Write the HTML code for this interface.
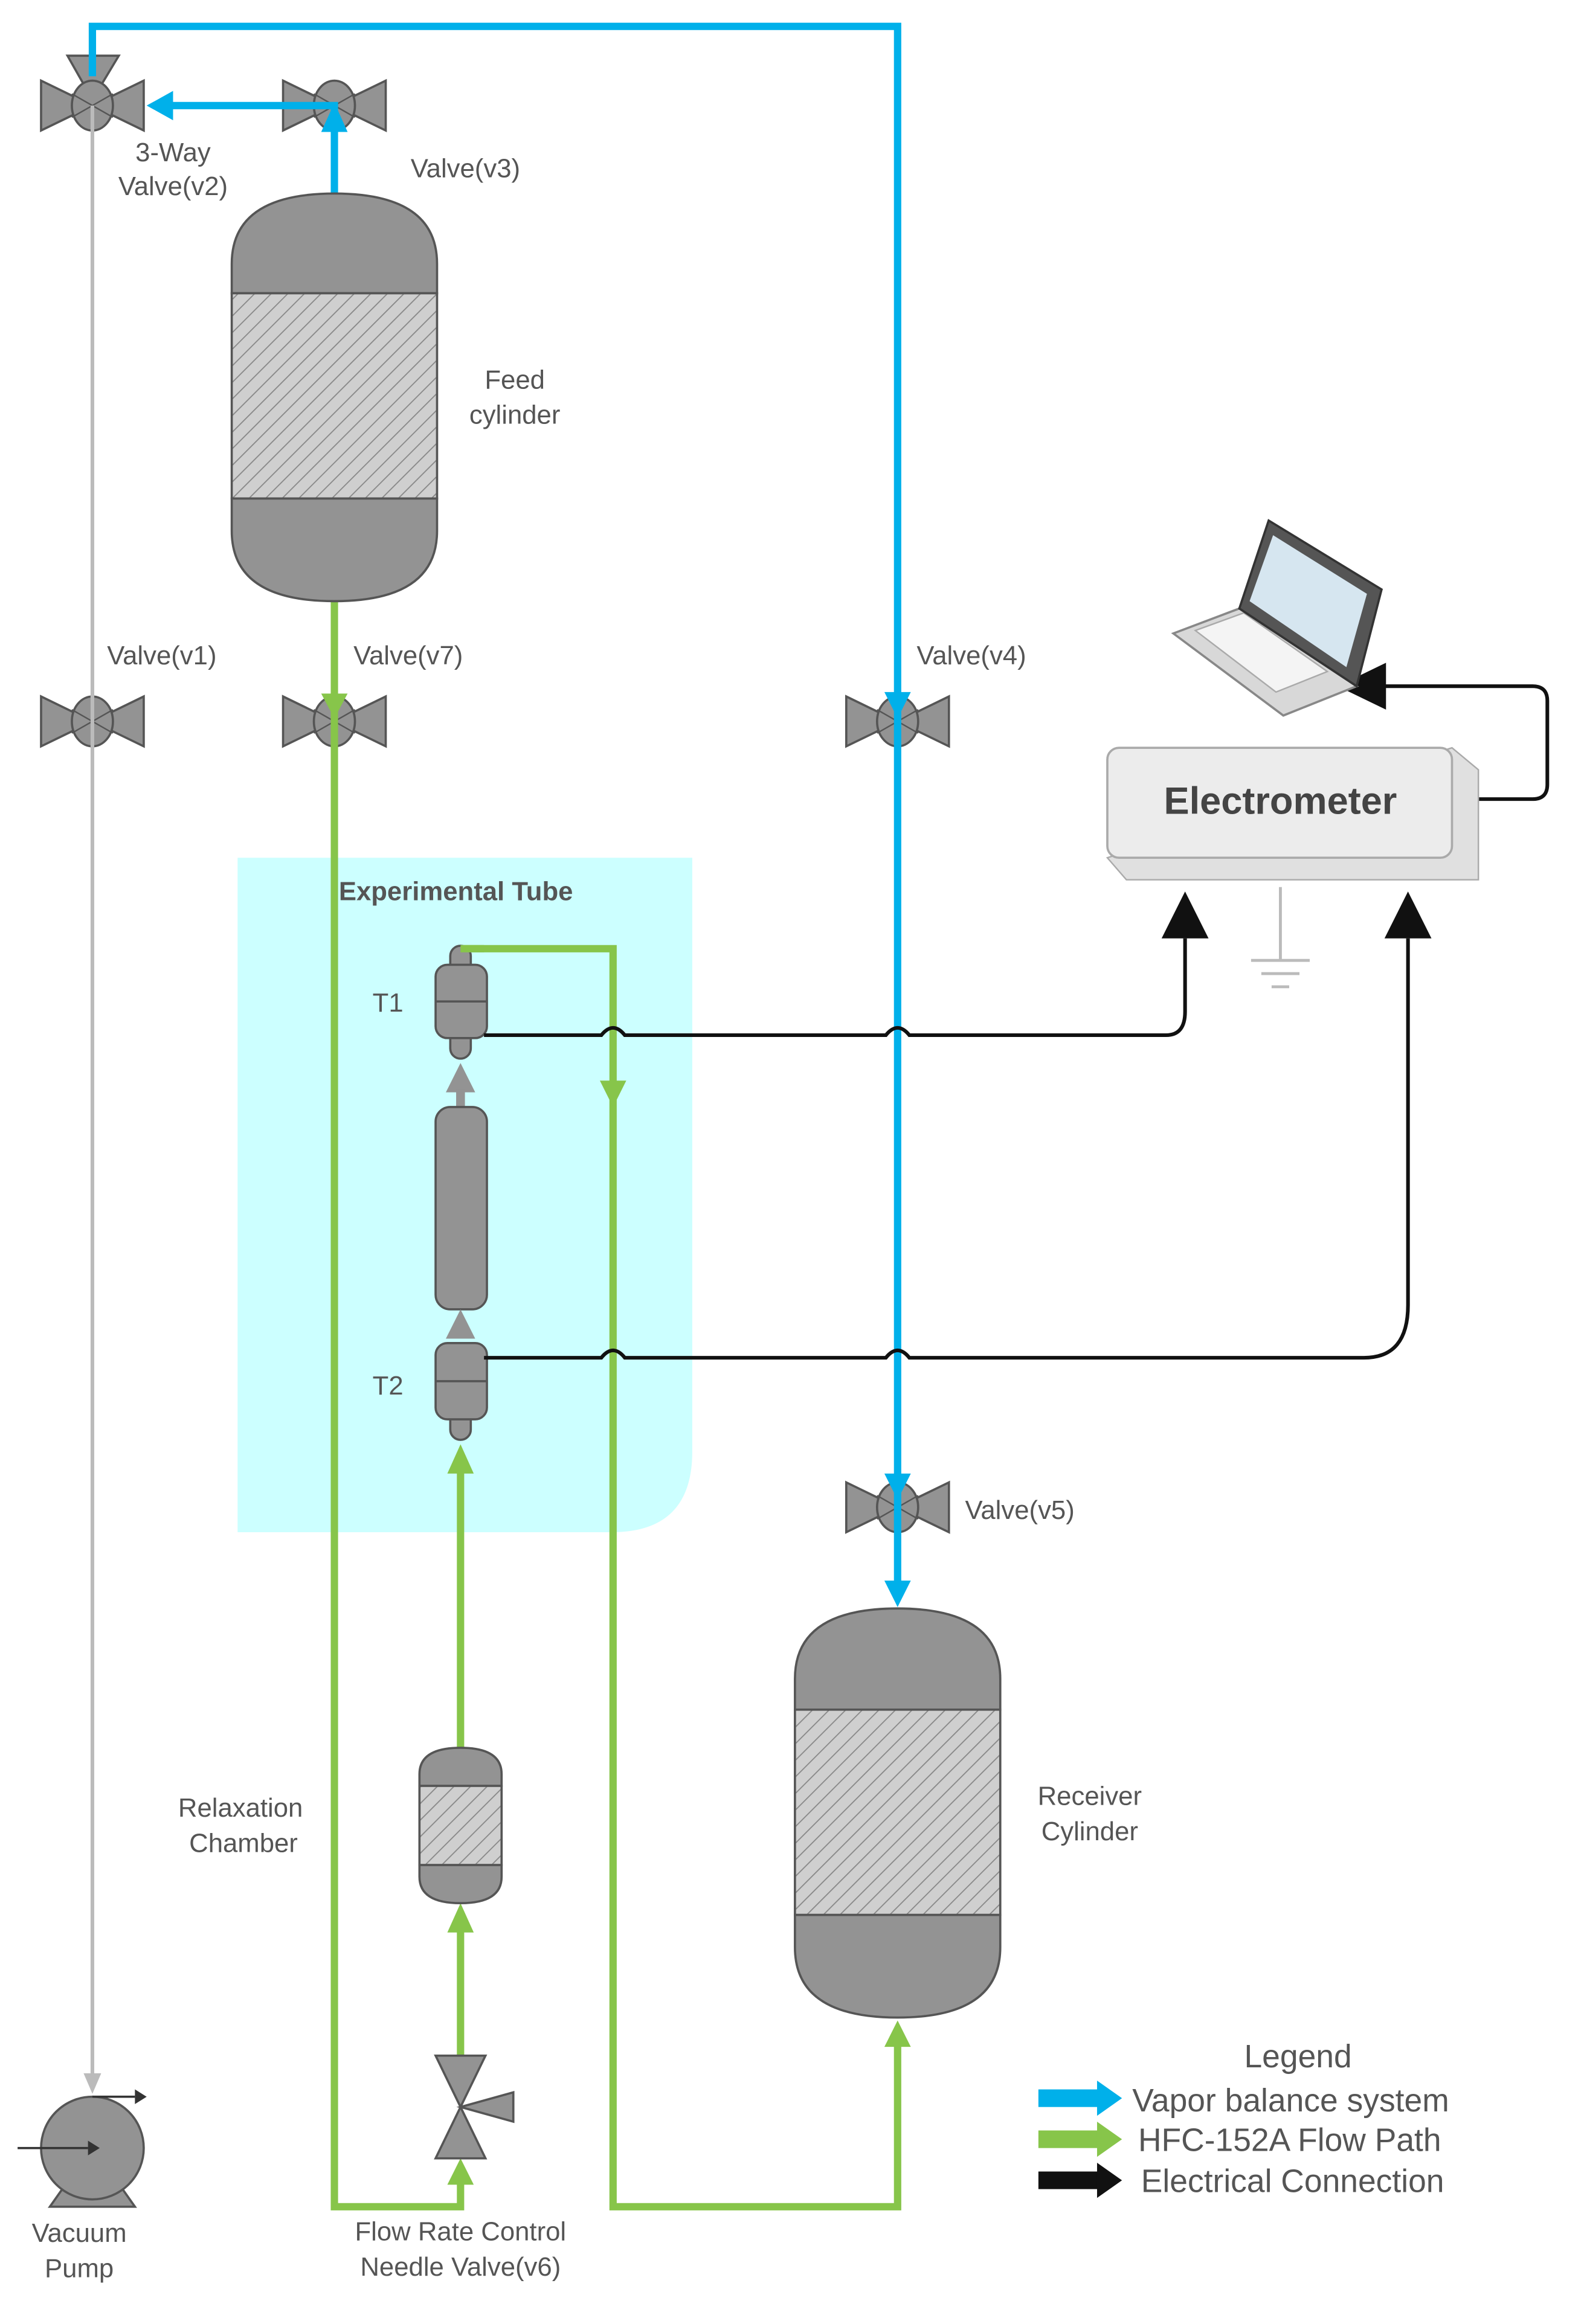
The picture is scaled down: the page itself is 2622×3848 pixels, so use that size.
<!DOCTYPE html>
<html><head><meta charset="utf-8"><style>
html,body{margin:0;padding:0;background:#fff;}
svg{display:block;}
text{font-family:"Liberation Sans",sans-serif;fill:#555;}
</style></head><body>
<svg width="2622" height="3848" viewBox="0 0 1080 1585" preserveAspectRatio="none" xmlns="http://www.w3.org/2000/svg">
<defs>
<pattern id="hatch" patternUnits="userSpaceOnUse" width="8" height="8" patternTransform="rotate(45)">
<rect width="8" height="8" fill="#cfcfcf"/><line x1="0" y1="0" x2="0" y2="8" stroke="#888" stroke-width="1.5"/>
</pattern>
<g id="valve">
<path d="M-35,-17 L0,0 L-35,17 Z M35,-17 L0,0 L35,17 Z" fill="#939393" stroke="#555" stroke-width="1.5"/>
<ellipse cx="0" cy="0" rx="14" ry="17" fill="#939393" stroke="#555" stroke-width="1.5"/>
<path d="M-14,-8 L14,8 M-14,8 L14,-8" stroke="#555" stroke-width="1"/>
</g>
</defs>
<rect width="1080" height="1585" fill="#fff"/>

<!-- experimental tube background -->
<path d="M162,585 H472 V990 Q472,1045 417,1045 H162 Z" fill="#ccffff"/>
<text x="231" y="614" font-size="18" font-weight="bold">Experimental Tube</text>

<!-- valves (under lines) -->
<path d="M46,38 L81,38 L63,68 Z" fill="#939393" stroke="#555" stroke-width="1.5"/>
<use href="#valve" x="63" y="72"/>
<use href="#valve" x="228" y="72"/>
<use href="#valve" x="63" y="492"/>
<use href="#valve" x="228" y="492"/>
<use href="#valve" x="612" y="492"/>
<use href="#valve" x="612" y="1028"/>

<!-- gray vacuum line -->
<line x1="63" y1="72" x2="63" y2="1418" stroke="#bbb" stroke-width="2.5"/>
<path d="M57,1414 L69,1414 L63,1428 Z" fill="#bbb"/>

<!-- blue lines -->
<path d="M63,52 V18 H612 V1085" fill="none" stroke="#00b0ea" stroke-width="5"/>
<path d="M603,1078 L621,1078 L612,1096 Z" fill="#00b0ea"/>
<path d="M603,472 L621,472 L612,490 Z" fill="#00b0ea"/>
<path d="M603,1005 L621,1005 L612,1023 Z" fill="#00b0ea"/>
<path d="M228,135 V72 H112" fill="none" stroke="#00b0ea" stroke-width="5"/>
<path d="M100,72 L118,62 L118,82 Z" fill="#00b0ea"/>
<path d="M228,70 L219,90 L237,90 Z" fill="#00b0ea"/>

<!-- green lines -->
<path d="M228,410 V1505 H314 V1480" fill="none" stroke="#87c54a" stroke-width="5"/>
<path d="M219,473 L237,473 L228,490 Z" fill="#87c54a"/>
<path d="M314,1472 L305,1490 L323,1490 Z" fill="#87c54a"/>
<path d="M314,1415 V1310" fill="none" stroke="#87c54a" stroke-width="5"/>
<path d="M314,1298 L305,1318 L323,1318 Z" fill="#87c54a"/>
<path d="M314,1192 V995" fill="none" stroke="#87c54a" stroke-width="5"/>
<path d="M314,985 L305,1005 L323,1005 Z" fill="#87c54a"/>
<path d="M314,647 H418 V1505 H612 V1390" fill="none" stroke="#87c54a" stroke-width="5"/>
<path d="M409,737 L427,737 L418,755 Z" fill="#87c54a"/>
<path d="M612,1378 L603,1396 L621,1396 Z" fill="#87c54a"/>

<!-- feed cylinder -->
<path d="M158,200 V180 Q158,132 228,132 Q298,132 298,180 V200 Z" fill="#939393" stroke="#555" stroke-width="1.5"/>
<rect x="158" y="200" width="140" height="140" fill="url(#hatch)" stroke="#555" stroke-width="1.5"/>
<path d="M158,340 V362 Q158,410 228,410 Q298,410 298,362 V340 Z" fill="#939393" stroke="#555" stroke-width="1.5"/>
<text x="351" y="265" font-size="18" text-anchor="middle">Feed</text>
<text x="351" y="289" font-size="18" text-anchor="middle">cylinder</text>

<!-- receiver cylinder -->
<path d="M542,1166 V1145 Q542,1097 612,1097 Q682,1097 682,1145 V1166 Z" fill="#939393" stroke="#555" stroke-width="1.5"/>
<rect x="542" y="1166" width="140" height="140" fill="url(#hatch)" stroke="#555" stroke-width="1.5"/>
<path d="M542,1306 V1328 Q542,1376 612,1376 Q682,1376 682,1328 V1306 Z" fill="#939393" stroke="#555" stroke-width="1.5"/>
<text x="743" y="1231" font-size="18" text-anchor="middle">Receiver</text>
<text x="743" y="1255" font-size="18" text-anchor="middle">Cylinder</text>

<text x="118" y="110" font-size="18" text-anchor="middle">3-Way</text>
<text x="118" y="133" font-size="18" text-anchor="middle">Valve(v2)</text>
<text x="280" y="121" font-size="18">Valve(v3)</text>
<text x="73" y="453" font-size="18">Valve(v1)</text>
<text x="241" y="453" font-size="18">Valve(v7)</text>
<text x="625" y="453" font-size="18">Valve(v4)</text>
<text x="658" y="1036" font-size="18">Valve(v5)</text>

<!-- T1 -->
<rect x="307" y="645" width="14" height="20" rx="7" fill="#939393" stroke="#555" stroke-width="1.5"/>
<rect x="307" y="700" width="14" height="22" rx="7" fill="#939393" stroke="#555" stroke-width="1.5"/>
<rect x="297" y="658" width="35" height="50" rx="8" fill="#939393" stroke="#555" stroke-width="1.5"/>
<line x1="297" y1="683" x2="332" y2="683" stroke="#555" stroke-width="1.5"/>
<path d="M314,647 H330" stroke="#87c54a" stroke-width="5"/>
<text x="254" y="690" font-size="18">T1</text>
<path d="M314,725 L304,745 L324,745 Z" fill="#939393"/>
<rect x="311" y="743" width="6" height="15" fill="#939393"/>
<rect x="297" y="755" width="35" height="138" rx="10" fill="#939393" stroke="#555" stroke-width="1.5"/>
<path d="M314,893 L304,913 L324,913 Z" fill="#939393"/>
<!-- T2 -->
<rect x="307" y="960" width="14" height="22" rx="7" fill="#939393" stroke="#555" stroke-width="1.5"/>
<rect x="297" y="916" width="35" height="52" rx="8" fill="#939393" stroke="#555" stroke-width="1.5"/>
<line x1="297" y1="942" x2="332" y2="942" stroke="#555" stroke-width="1.5"/>
<text x="254" y="951" font-size="18">T2</text>

<!-- relaxation chamber -->
<path d="M286,1218 V1210 Q286,1192 314,1192 Q342,1192 342,1210 V1218 Z" fill="#939393" stroke="#555" stroke-width="1.5"/>
<rect x="286" y="1218" width="56" height="54" fill="url(#hatch)" stroke="#555" stroke-width="1.5"/>
<path d="M286,1272 V1280 Q286,1298 314,1298 Q342,1298 342,1280 V1272 Z" fill="#939393" stroke="#555" stroke-width="1.5"/>
<text x="164" y="1239" font-size="18" text-anchor="middle">Relaxation</text>
<text x="166" y="1263" font-size="18" text-anchor="middle">Chamber</text>

<!-- needle valve -->
<path d="M297,1402 L331,1402 L314,1437 Z M297,1472 L331,1472 L314,1437 Z" fill="#939393" stroke="#555" stroke-width="1.5"/>
<path d="M314,1437 L350,1427 L350,1447 Z" fill="#939393" stroke="#555" stroke-width="1.5"/>
<text x="314" y="1528" font-size="18" text-anchor="middle">Flow Rate Control</text>
<text x="314" y="1552" font-size="18" text-anchor="middle">Needle Valve(v6)</text>

<!-- vacuum pump -->
<path d="M34,1505 L92,1505 L80,1488 L46,1488 Z" fill="#939393" stroke="#555" stroke-width="1.5"/>
<circle cx="63" cy="1465" r="35" fill="#939393" stroke="#555" stroke-width="1.5"/>
<line x1="12" y1="1465" x2="60" y2="1465" stroke="#333" stroke-width="1.5"/>
<path d="M60,1460 L68,1465 L60,1470 Z" fill="#333"/>
<line x1="63" y1="1430" x2="92" y2="1430" stroke="#333" stroke-width="1.5"/>
<path d="M92,1425 L100,1430 L92,1435 Z" fill="#333"/>
<text x="54" y="1529" font-size="18" text-anchor="middle">Vacuum</text>
<text x="54" y="1553" font-size="18" text-anchor="middle">Pump</text>

<!-- electrical lines -->
<path d="M330,706 H410 Q418,696 426,706 H604 Q612,696 620,706 H795 Q808,706 808,690 V640" fill="none" stroke="#111" stroke-width="2.5"/>
<path d="M792,640 L808,608 L824,640 Z" fill="#111"/>
<path d="M330,926 H410 Q418,916 426,926 H604 Q612,916 620,926 H930 Q960,926 960,890 V640" fill="none" stroke="#111" stroke-width="2.5"/>
<path d="M944,640 L960,608 L976,640 Z" fill="#111"/>
<path d="M990,545 H1045 Q1055,545 1055,535 V478 Q1055,468 1045,468 H940" fill="none" stroke="#111" stroke-width="2.5"/>
<path d="M912,468 L945,452 L945,484 Z" fill="#111"/>

<!-- electrometer -->
<path d="M755,585 L768,600 H1008 V525 L990,510 Z" fill="#e0e0e0" stroke="#aaa"/>
<rect x="755" y="510" width="235" height="75" rx="8" fill="#ececec" stroke="#aaa" stroke-width="1.5"/>
<text x="873" y="555" font-size="26" font-weight="bold" text-anchor="middle" style="fill:#444">Electrometer</text>
<line x1="873" y1="605" x2="873" y2="655" stroke="#bbb" stroke-width="2"/>
<line x1="853" y1="655" x2="893" y2="655" stroke="#bbb" stroke-width="2"/>
<line x1="860" y1="664" x2="886" y2="664" stroke="#bbb" stroke-width="2"/>
<line x1="867" y1="673" x2="879" y2="673" stroke="#bbb" stroke-width="2"/>

<!-- laptop -->
<path d="M800,432 L845,415 L925,468 L875,488 Z" fill="#d8d8d8" stroke="#888" stroke-width="1.5"/>
<path d="M815,430 L848,418 L905,458 L870,472 Z" fill="#f4f4f4" stroke="#aaa"/>
<path d="M845,415 L865,355 L942,402 L925,468 Z" fill="#555" stroke="#333" stroke-width="1.5"/>
<path d="M852,410 L868,365 L932,405 L918,455 Z" fill="#d6e6f0"/>

<!-- legend -->
<text x="885" y="1410" font-size="22" text-anchor="middle">Legend</text>
<rect x="708" y="1425" width="42" height="12" fill="#00b0ea"/><path d="M748,1419 L765,1431 L748,1443 Z" fill="#00b0ea"/>
<text x="772" y="1440" font-size="22">Vapor balance system</text>
<rect x="708" y="1453" width="42" height="12" fill="#87c54a"/><path d="M748,1447 L765,1459 L748,1471 Z" fill="#87c54a"/>
<text x="776" y="1467" font-size="22">HFC-152A Flow Path</text>
<rect x="708" y="1481" width="42" height="12" fill="#111"/><path d="M748,1475 L765,1487 L748,1499 Z" fill="#111"/>
<text x="778" y="1495" font-size="22">Electrical Connection</text>
</svg>
</body></html>
